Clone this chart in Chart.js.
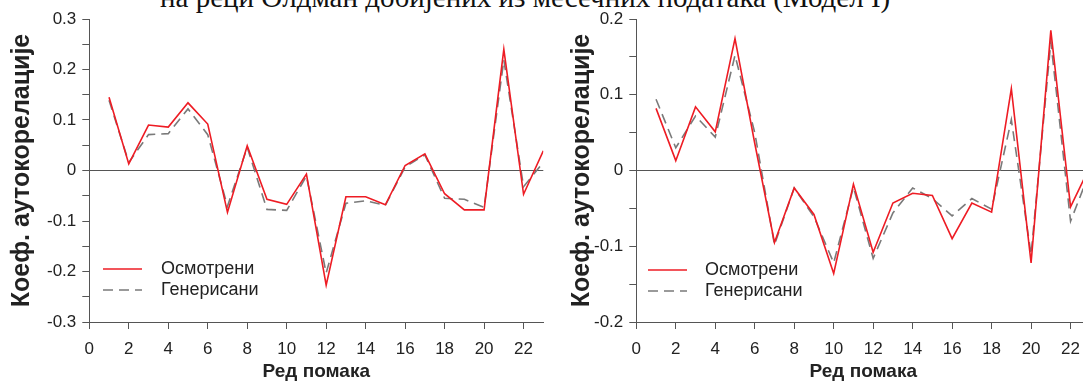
<!DOCTYPE html>
<html><head><meta charset="utf-8">
<script src="https://cdn.jsdelivr.net/npm/chart.js@4"></script>
<style>
html,body{margin:0;padding:0;background:#fff;overflow:hidden;width:1083px;height:381px;position:relative}
#title{position:absolute;left:160px;top:-18px;font-family:'Liberation Serif','Times New Roman',serif;font-size:29px;line-height:30px;color:#111;white-space:nowrap}
.box{position:absolute;top:0;width:545px;height:381px}
</style></head><body>
<div id="title">на реци Олдман добијених из месечних података (Модел I)</div>
<div class="box" style="left:0"><canvas id="c1" width="545" height="381"></canvas></div>
<div class="box" style="left:547px"><canvas id="c2" width="545" height="381"></canvas></div>
<script>
const lags = [1,2,3,4,5,6,7,8,9,10,11,12,13,14,15,16,17,18,19,20,21,22,23];
const observedA  = [0.145,0.013,0.090,0.086,0.134,0.092,-0.083,0.049,-0.057,-0.067,-0.007,-0.227,-0.052,-0.052,-0.068,0.010,0.033,-0.046,-0.078,-0.078,0.240,-0.047,0.039];
const generatedA = [0.139,0.016,0.071,0.073,0.122,0.071,-0.071,0.046,-0.077,-0.079,-0.011,-0.203,-0.065,-0.060,-0.069,0.007,0.031,-0.055,-0.057,-0.073,0.219,-0.032,0.016];
const observedB  = [0.082,0.013,0.084,0.051,0.174,0.036,-0.095,-0.023,-0.058,-0.136,-0.018,-0.108,-0.043,-0.030,-0.033,-0.090,-0.043,-0.055,0.108,-0.122,0.185,-0.048,0.006];
const generatedB = [0.094,0.030,0.072,0.044,0.152,0.050,-0.098,-0.023,-0.061,-0.122,-0.022,-0.116,-0.056,-0.023,-0.037,-0.060,-0.037,-0.051,0.067,-0.111,0.170,-0.067,0.000];
const xTicks  = [0,2,4,6,8,10,12,14,16,18,20,22];
const yTicksA = [-0.3,-0.25,-0.2,-0.15,-0.1,-0.05,0,0.05,0.1,0.15,0.2,0.25,0.3];
const yTicksB = [-0.2,-0.15,-0.1,-0.05,0,0.05,0.1,0.15,0.2];
const seriesNames = ['Осмотрени','Генерисани'];
const xTitle = 'Ред помака';
const yTitle = 'Коеф. аутокорелације';

const TXT = '#222';
const AX = '#555';
const SANS = "'Liberation Sans', Arial, sans-serif";

const legendPlugin = {
  id: 'insideLegend',
  afterDraw(chart, args, o) {
    const ctx = chart.ctx;
    chart.data.datasets.forEach((ds, i) => {
      const y = o.y + i * o.gap;
      ctx.save();
      ctx.strokeStyle = ds.borderColor;
      ctx.lineWidth = ds.borderWidth;
      ctx.setLineDash(ds.borderDash || []);
      ctx.beginPath(); ctx.moveTo(o.x, y); ctx.lineTo(o.x + o.len, y); ctx.stroke();
      ctx.setLineDash([]);
      ctx.fillStyle = TXT;
      ctx.font = '18px ' + SANS;
      ctx.textBaseline = 'middle';
      ctx.textAlign = 'left';
      ctx.fillText(ds.label, o.textX, y);
      ctx.restore();
    });
  }
};

function fmtY(v) {
  const t = Math.round(v * 10);
  if (Math.abs(v * 10 - t) > 1e-6) return '';
  return t === 0 ? '0' : (t / 10).toFixed(1);
}

function makeChart(id, obs, gen, yTicks, titlePad, legend) {
  return new Chart(document.getElementById(id), {
    type: 'line',
    data: {
      datasets: [
        { label: seriesNames[0], data: lags.map((x, i) => ({ x, y: obs[i] })),
          borderColor: '#ee1c24', borderWidth: 1.6, pointRadius: 0, tension: 0, fill: false },
        { label: seriesNames[1], data: lags.map((x, i) => ({ x, y: gen[i] })),
          borderColor: '#7a7a7a', borderWidth: 1.6, borderDash: [10, 6], pointRadius: 0, tension: 0, fill: false }
      ]
    },
    options: {
      responsive: false,
      animation: false,
      events: [],
      layout: { padding: { top: 19, right: 1.7, bottom: 0, left: 0 } },
      plugins: { legend: { display: false }, tooltip: { enabled: false }, insideLegend: legend },
      scales: {
        x: {
          type: 'linear', position: 'bottom', min: 0, max: 23,
          afterBuildTicks: s => { s.ticks = xTicks.map(v => ({ value: v })); },
          afterFit: s => { s.height = 59; },
          ticks: { color: TXT, font: { family: SANS, size: 17 }, padding: 10, maxRotation: 0, autoSkip: false,
                   callback: v => String(v) },
          grid: { drawOnChartArea: false, tickLength: 7, color: AX, tickColor: AX },
          border: { color: AX, width: 1 },
          title: { display: true, text: xTitle, color: TXT, font: { family: SANS, size: 19, weight: 'bold' },
                   padding: { top: 0, bottom: -2 } }
        },
        y: {
          type: 'linear', position: 'left', min: yTicks[0], max: yTicks[yTicks.length - 1],
          afterBuildTicks: s => { s.ticks = yTicks.map(v => ({ value: v })); },
          afterFit: s => { s.width = 89.3; },
          ticks: { color: TXT, font: { family: SANS, size: 17 }, padding: 6, autoSkip: false, callback: v => fmtY(v) },
          grid: { drawOnChartArea: true, tickLength: 7, tickColor: AX,
                  color: c => (c.tick && Math.abs(c.tick.value) < 1e-9) ? AX : 'rgba(0,0,0,0)' },
          border: { color: AX, width: 1 },
          title: { display: true, text: yTitle, color: TXT, font: { family: SANS, size: 25, weight: 'bold' },
                   padding: { top: titlePad, bottom: 0 } }
        }
      }
    },
    plugins: [legendPlugin]
  });
}

makeChart('c1', observedA, generatedA, yTicksA, 7, { x: 103, len: 39, textX: 161, y: 269, gap: 21 });
makeChart('c2', observedB, generatedB, yTicksB, 20, { x: 101, len: 39, textX: 158, y: 270, gap: 21 });
</script>
</body></html>
